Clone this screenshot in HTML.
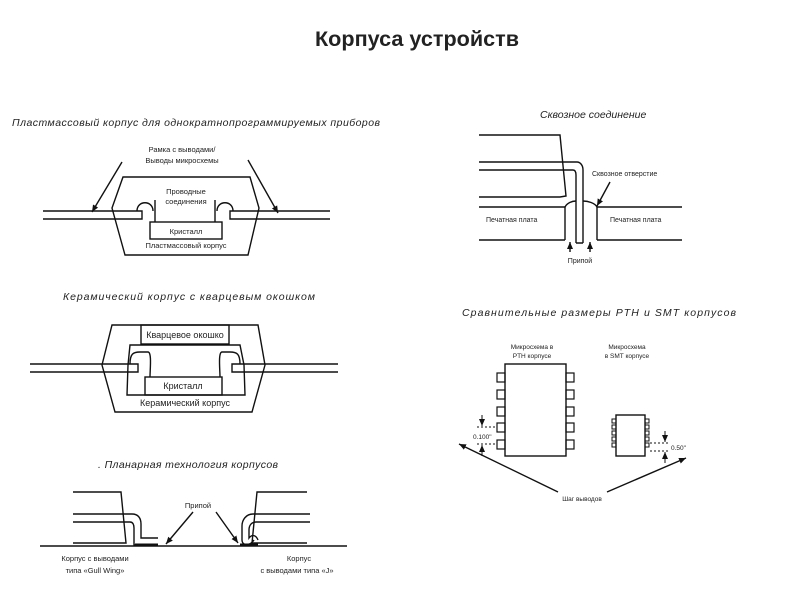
<!DOCTYPE html>
<html><head><meta charset="utf-8"><style>
html,body{margin:0;padding:0;background:#fff;}
svg{display:block;}
text{font-family:"Liberation Sans",sans-serif;fill:#222;}
.t{font-size:10.5px;font-style:italic;}
.s{font-size:7.5px;}
</style></head><body>
<svg width="800" height="600" viewBox="0 0 800 600" xmlns="http://www.w3.org/2000/svg">
<defs><marker id="a" markerWidth="8" markerHeight="8" refX="7" refY="4" orient="auto" markerUnits="userSpaceOnUse"><path d="M0,1 L7,4 L0,7 Z" fill="#111"/></marker></defs>
<text x="417" y="46" font-size="21" font-weight="bold" text-anchor="middle" textLength="204" lengthAdjust="spacingAndGlyphs" fill="#111">Корпуса  устройств</text>
<g fill="none" stroke="#111" stroke-width="1.4">
<!-- Diagram 1 -->
<path d="M123,177 L250,177 L259,208 L248,255 L125,255 L112,208 Z" fill="#fff"/>
<path d="M43,211 H142 V219 H43"/>
<path d="M330,211 H230 V219 H330"/>
<rect x="150" y="222" width="72" height="17"/>
<path d="M137,211 C137,200 153,200 153,211"/>
<path d="M233,211 C233,200 217,200 217,211"/>
<path d="M155,222 V200"/><path d="M215,222 V200"/>
<path d="M122,162 L92,212" marker-end="url(#a)"/>
<path d="M248,160 L278,213" marker-end="url(#a)"/>
<!-- Diagram 2 -->
<path d="M112,325 L258,325 L265,365 L252,412 L115,412 L102,365 Z"/>
<rect x="141" y="325" width="88" height="19"/>
<path d="M130,345 L240,345 L244,365 L245,395 L127,395 L128,365 Z"/>
<path d="M30,364 H138 V372 H30"/>
<path d="M338,364 H232 V372 H338"/>
<rect x="145" y="377" width="77" height="18"/>
<path d="M130,364 C130,354 133,352 140,352 H148 C152,352 150,370 150,377"/>
<path d="M240,364 C240,354 237,352 230,352 H222 C218,352 220,370 220,377"/>
<!-- Diagram 3 -->
<path d="M73,492 H121 L126,543 H73"/>
<path d="M73,514 H132 C138,514 141,518 141,524 V538 H158 M73,522 H130 C133,522 134,525 134,528 V545 H156"/>
<path d="M40,546 H347"/>
<path d="M307,492 H257 L252,543 H307"/>
<path d="M310,514 H253 C246,514 242,520 242,526 V540 C242,546 250,546 254,540 M310,522 H256 C251,522 249,526 249,530 V538 C252,534 256,535 258,540"/>
<path d="M135,545 H158" stroke-width="3"/>
<path d="M240,545 H258" stroke-width="3"/>
<path d="M193,512 L166,544" marker-end="url(#a)"/>
<path d="M216,512 L238,543" marker-end="url(#a)"/>
<!-- Through hole -->
<path d="M479,135 H560 L566,196 L560,197 H479"/>
<path d="M479,162 H577 C580,162 583,165 583,170 V243 M479,170 H573 C575,170 576,172 576,175 V243 M576,243 H583"/>
<path d="M479,207 H565 M597,207 H682 M479,240 H565 M597,240 H682"/>
<path d="M565,207 V240 M597,207 V240"/>
<path d="M565,207 C567,203 572,201 576,201 M583,201 C588,201 595,203 597,207"/>
<path d="M610,182 L597,206" marker-end="url(#a)"/>
<path d="M570,252 V242" marker-end="url(#a)"/>
<path d="M590,252 V242" marker-end="url(#a)"/>
<!-- PTH / SMT -->
<rect x="505" y="364" width="61" height="92"/>
<g stroke-width="1.2">
<rect x="497" y="373" width="8" height="9"/><rect x="497" y="390" width="8" height="9"/><rect x="497" y="407" width="8" height="9"/><rect x="497" y="423" width="8" height="9"/><rect x="497" y="440" width="8" height="9"/>
<rect x="566" y="373" width="8" height="9"/><rect x="566" y="390" width="8" height="9"/><rect x="566" y="407" width="8" height="9"/><rect x="566" y="423" width="8" height="9"/><rect x="566" y="440" width="8" height="9"/>
</g>
<rect x="616" y="415" width="29" height="41"/>
<g stroke-width="1">
<rect x="612" y="419" width="4" height="4"/><rect x="612" y="425" width="4" height="4"/><rect x="612" y="431" width="4" height="4"/><rect x="612" y="437" width="4" height="4"/><rect x="612" y="443" width="4" height="4"/>
<rect x="645" y="419" width="4" height="4"/><rect x="645" y="425" width="4" height="4"/><rect x="645" y="431" width="4" height="4"/><rect x="645" y="437" width="4" height="4"/><rect x="645" y="443" width="4" height="4"/>
</g>
<path d="M477,427 H497 M477,444 H497 M650,443 H668 M650,451 H668" stroke-dasharray="2,2" stroke-width="1"/>
<path d="M482,415 V426" marker-end="url(#a)" stroke-width="1"/>
<path d="M482,456 V445" marker-end="url(#a)" stroke-width="1"/>
<path d="M665,431 V442" marker-end="url(#a)" stroke-width="1"/>
<path d="M665,463 V452" marker-end="url(#a)" stroke-width="1"/>
<path d="M558,492 L459,444" marker-end="url(#a)"/>
<path d="M607,492 L686,458" marker-end="url(#a)"/>
</g>
<text x="12" y="126" class="t" textLength="368">Пластмассовый корпус для однократнопрограммируемых приборов</text>
<text x="182" y="152" class="s" text-anchor="middle">Рамка с выводами/</text>
<text x="182" y="163" class="s" text-anchor="middle">Выводы микросхемы</text>
<text x="186" y="194" class="s" text-anchor="middle">Проводные</text>
<text x="186" y="204" class="s" text-anchor="middle">соединения</text>
<text x="186" y="234" class="s" text-anchor="middle">Кристалл</text>
<text x="186" y="248" class="s" text-anchor="middle">Пластмассовый корпус</text>
<text x="63" y="300" class="t" textLength="252">Керамический корпус с кварцевым окошком</text>
<text x="185" y="338" font-size="9" text-anchor="middle">Кварцевое окошко</text>
<text x="183" y="389" font-size="9" text-anchor="middle">Кристалл</text>
<text x="185" y="406" font-size="9" text-anchor="middle">Керамический корпус</text>
<text x="98" y="468" class="t" textLength="180">. Планарная технология корпусов</text>
<text x="198" y="508" class="s" text-anchor="middle">Припой</text>
<text x="95" y="561" class="s" text-anchor="middle">Корпус с выводами</text>
<text x="95" y="573" class="s" text-anchor="middle">типа «Gull Wing»</text>
<text x="299" y="561" class="s" text-anchor="middle">Корпус</text>
<text x="297" y="573" class="s" text-anchor="middle">с выводами типа «J»</text>
<text x="540" y="118" class="t">Сквозное соединение</text>
<text x="592" y="176" font-size="7">Сквозное отверстие</text>
<text x="486" y="222" font-size="7">Печатная плата</text>
<text x="610" y="222" font-size="7">Печатная плата</text>
<text x="580" y="263" font-size="7" text-anchor="middle">Припой</text>
<text x="462" y="316" class="t" textLength="274">Сравнительные размеры PTH и SMT корпусов</text>
<text x="532" y="349" font-size="6.5" text-anchor="middle">Микросхема в</text>
<text x="532" y="358" font-size="6.5" text-anchor="middle">PTH корпусе</text>
<text x="627" y="349" font-size="6.5" text-anchor="middle">Микросхема</text>
<text x="627" y="358" font-size="6.5" text-anchor="middle">в SMT корпусе</text>
<text x="473" y="439" font-size="6.5">0.100"</text>
<text x="671" y="450" font-size="6.5">0.50"</text>
<text x="582" y="501" font-size="6.5" text-anchor="middle">Шаг выводов</text>
</svg>
</body></html>
